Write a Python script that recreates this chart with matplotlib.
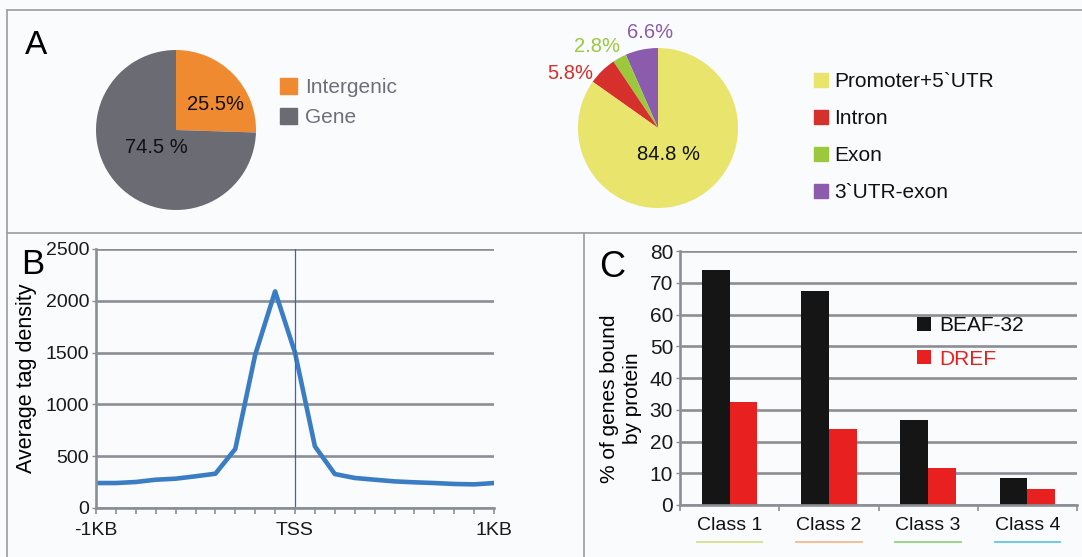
#
# Recreate the three-panel figure: A (two pies), B (tag density around TSS),
# C (genes bound by BEAF-32 / DREF per class)
#
import numpy as np
import matplotlib
matplotlib.use("Agg")
import matplotlib.pyplot as plt
from matplotlib.patches import Patch
from matplotlib.lines import Line2D
import matplotlib.transforms as mtransforms

plt.rcParams['font.family'] = ['Liberation Sans', 'DejaVu Sans']

W, H = 1082, 557
BG = '#fafbfd'
GRID = '#8a8f95'
FRAME = '#a3a3a3'

# ---- data ----
region_labels = ['Intergenic', 'Gene']
region_pct = [25.5, 74.5]
region_text = ['25.5%', '74.5 %']
region_colors = ['#f08a30', '#6b6b74']

gene_labels = ['3`UTR-exon', 'Exon', 'Intron', 'Promoter+5`UTR']
gene_pct = [6.6, 2.8, 5.8, 84.8]
gene_text = ['6.6%', '2.8%', '5.8%', '84.8 %']
gene_colors = ['#8b5cad', '#9cc83e', '#d5302b', '#e8e46c']

bp_pos = [-1000, -900, -800, -700, -600, -500, -400, -300, -200, -100, 0,
          100, 200, 300, 400, 500, 600, 700, 800, 900, 1000]
tag_density = [241, 241, 251, 273, 283, 306, 331, 570, 1480, 2091, 1500,
               595, 328, 290, 273, 257, 248, 241, 232, 228, 241]
bp_ticks = [-1000, 0, 1000]
bp_tick_labels = ['-1KB', 'TSS', '1KB']

classes = ['Class 1', 'Class 2', 'Class 3', 'Class 4']
beaf32 = [74.1, 67.4, 26.9, 8.4]
dref = [32.5, 23.8, 11.7, 5.0]
class_line_colors = ['#d6e08a', '#f2b98c', '#8fd47e', '#5fc9de']


def px_axes(fig, l, t, r, b):
    # axes placed by pixel box (left, top, right, bottom)
    return fig.add_axes([l / W, 1 - b / H, (r - l) / W, (b - t) / H])


def px_line(fig, x0, y0, x1, y1):
    fig.add_artist(Line2D([x0 / W, x1 / W], [1 - y0 / H, 1 - y1 / H],
                          transform=fig.transFigure, color=FRAME, lw=1.3))


def pie_labels(ax, wedges, texts, dists, shifts, colors):
    for w, t, d, s, c in zip(wedges, texts, dists, shifts, colors):
        ang = np.deg2rad((w.theta1 + w.theta2) / 2 + s)
        ax.text(d * np.cos(ang), d * np.sin(ang), t, ha='center', va='center',
                color=c, fontsize=14.5)


fig = plt.figure(figsize=(W / 100, H / 100), dpi=100, facecolor=BG)

# panel frames
px_line(fig, 7, 10, W, 10)
px_line(fig, 7, 233, W, 233)
px_line(fig, 7, 10, 7, H)
px_line(fig, 584, 233, 584, H)

# ---- A: left pie ----
ax1 = px_axes(fig, 96, 50, 256, 210)
w1, _ = ax1.pie(region_pct, colors=region_colors, startangle=90, counterclock=False)
ax1.set_xlim(-1, 1)
ax1.set_ylim(-1, 1)
pie_labels(ax1, w1, region_text, [0.59, 0.33], [-12, -3], ['#111111', '#111111'])
fig.legend(handles=[Patch(color=c) for c in region_colors], labels=region_labels,
           loc='upper left', bbox_to_anchor=(280 / W, 1 - 78 / H), frameon=False,
           fontsize=15, handlelength=0.8, handleheight=0.8, handletextpad=0.4,
           labelspacing=0.5, borderpad=0, borderaxespad=0, labelcolor='#6f6f7b')

# ---- A: right pie ----
ax2 = px_axes(fig, 578, 48, 738, 208)
w2, _ = ax2.pie(gene_pct, colors=gene_colors, startangle=90, counterclock=True)
ax2.set_xlim(-1, 1)
ax2.set_ylim(-1, 1)
pie_labels(ax2, w2, gene_text, [1.2, 1.27, 1.29, 0.35], [-7, 8, 14, -6],
           gene_colors[:3] + ['#111111'])
order = [3, 2, 1, 0]
fig.legend(handles=[Patch(color=gene_colors[i]) for i in order],
           labels=[gene_labels[i] for i in order],
           loc='upper left', bbox_to_anchor=(814 / W, 1 - 72 / H), frameon=False,
           fontsize=15, handlelength=0.65, handleheight=0.65, handletextpad=0.3,
           labelspacing=0.87, borderpad=0, borderaxespad=0, labelcolor='#111111')

fig.text(36 / W, 1 - 46 / H, 'A', fontsize=24, ha='center', va='center')


def style_axes(ax, tick_size):
    ax.set_facecolor('none')
    ax.grid(axis='y', color=GRID, lw=1.9)
    ax.set_axisbelow(True)
    for s in ['top', 'right']:
        ax.spines[s].set_visible(False)
    for s in ['left', 'bottom']:
        ax.spines[s].set_color(GRID)
        ax.spines[s].set_linewidth(1.9)
    ax.tick_params(axis='y', length=3, width=1, color=GRID, labelsize=tick_size,
                   pad=2, labelcolor='#1a1a1a')


# ---- B: tag density ----
axB = px_axes(fig, 96, 249, 494, 508)
style_axes(axB, 14)
axB.plot(bp_pos, tag_density, color='#3b7dc4', lw=3.3, solid_joinstyle='round')
axB.axvline(0, color='#3a5fd0', lw=0.9)
axB.set_xlim(-1000, 1000)
axB.set_ylim(0, 2500)
axB.set_yticks(range(0, 2501, 500))
axB.set_xticks(bp_ticks, bp_tick_labels)
axB.set_xticks(bp_pos, minor=True)
axB.tick_params(axis='x', which='both', direction='out', length=4, width=1.2,
                color=GRID, labelsize=14, pad=6, labelcolor='#1a1a1a')
axB.set_ylabel('Average tag density', fontsize=15.5)
axB.yaxis.set_label_coords(-0.148, 0.5)
fig.text(33 / W, 1 - 265 / H, 'B', fontsize=25, ha='center', va='center')

# ---- C: genes bound by protein ----
axC = px_axes(fig, 680, 251, 1077, 505)
style_axes(axC, 15)
x = np.arange(len(classes))
bw = 0.28
axC.bar(x - bw / 2, beaf32, bw, color='#151515', label='BEAF-32')
axC.bar(x + bw / 2, dref, bw, color='#e8201f', label='DREF')
axC.set_xlim(-0.5, len(classes) - 0.5)
axC.set_ylim(0, 80)
axC.set_yticks(range(0, 81, 10))
axC.set_xticks(np.arange(-0.5, len(classes), 1), [])
axC.set_xticks(x, classes, minor=True)
axC.tick_params(axis='x', which='major', direction='out', length=4, width=1.2, color=GRID)
axC.tick_params(axis='x', which='minor', length=0, labelsize=14, pad=9,
                labelcolor='#111111')
trans = mtransforms.blended_transform_factory(axC.transData, axC.transAxes)
for xi, c in zip(x, class_line_colors):
    axC.plot([xi - 0.33, xi + 0.33], [-0.146, -0.146], transform=trans,
             clip_on=False, color=c, lw=1.3)
axC.set_ylabel('% of genes bound\nby protein', fontsize=15, linespacing=1.3)
axC.yaxis.set_label_coords(-0.095, 0.42)
axC.legend(loc='upper left', bbox_to_anchor=(917 / W, 1 - 316 / H),
           bbox_transform=fig.transFigure, frameon=False, fontsize=15,
           handlelength=0.65, handleheight=0.65, handletextpad=0.4,
           labelspacing=0.7, borderpad=0, borderaxespad=0,
           labelcolor=['#111111', '#e8201f'])
fig.text(612 / W, 1 - 267 / H, 'C', fontsize=26, ha='center', va='center')

fig.savefig('out.png', dpi=100, facecolor=BG)
